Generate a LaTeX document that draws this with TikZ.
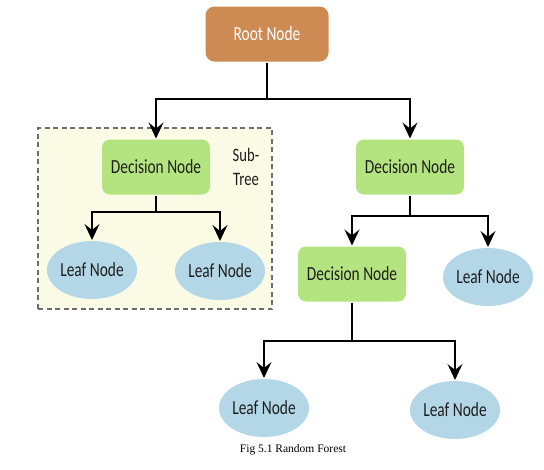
\documentclass[tikz,border=0pt]{standalone}
\usepackage{fontspec}
\setmainfont{Carlito}
\newfontfamily\nodefont[FakeStretch=0.77]{Carlito}
\newfontfamily\capfont{Liberation Serif}
\usepackage{tikz}
\usetikzlibrary{arrows.meta, positioning, shapes.geometric}

\definecolor{rootcol}{HTML}{CD8A52}
\definecolor{deccol}{HTML}{B3E47F}
\definecolor{leafcol}{HTML}{B3D7E6}
\definecolor{boxcol}{HTML}{FBFAE5}
\definecolor{dashcol}{HTML}{6E6E6E}
\definecolor{txtcol}{HTML}{1E1E1E}

\begin{document}
\begin{tikzpicture}[x=1pt, y=1pt, >={Stealth[length=16pt, width=15pt, inset=6pt]}, line width=2pt]
        % Estilos de los nodos
        \tikzstyle{rootbox} = [rectangle, rounded corners=9pt, fill=rootcol, text=white, minimum width=123pt, minimum height=55pt, font=\nodefont\fontsize{20}{22}\selectfont]
        \tikzstyle{decision} = [rectangle, rounded corners=8pt, fill=deccol, text=txtcol, minimum width=108pt, minimum height=55pt, font=\nodefont\fontsize{20}{22}\selectfont]
        \tikzstyle{leaf} = [ellipse, fill=leafcol, text=txtcol, inner sep=0pt, minimum width=90pt, minimum height=58pt, font=\nodefont\fontsize{20}{22}\selectfont]
        \tikzstyle{subtree} = [rectangle, draw=dashcol, dash pattern=on 5pt off 3.5pt, line width=1.3pt, fill=boxcol, minimum width=234pt, minimum height=181pt]
        \tikzstyle{elbow} = [coordinate]
        \useasboundingbox (0,0) rectangle (544,-469);
        % Fondo del subarbol
        \node [subtree] at (155,-218.5) (subbox) {};
        % Nodes
        \node [rootbox] at (267,-34) (root) {Root Node}; % Root
        \node [decision, on grid, below left=133pt and 111pt of root] (decL) {Decision Node}; % Left decision
        \node [decision, on grid, below right=133pt and 143pt of root] (decR) {Decision Node}; % Right decision
        \node [leaf, on grid, below left=103pt and 64pt of decL] (leafA) {Leaf Node}; % Sub-tree leaf
        \node [leaf, on grid, below right=104pt and 64pt of decL] (leafB) {Leaf Node}; % Sub-tree leaf
        \node [decision, on grid, below left=107pt and 58pt of decR] (decM) {Decision Node}; % Inner decision
        \node [leaf, on grid, below right=110pt and 78pt of decR] (leafC) {Leaf Node}; % Right leaf
        \node [leaf, on grid, below left=134pt and 88pt of decM] (leafD) {Leaf Node}; % Bottom leaf
        \node [leaf, on grid, below right=136pt and 103pt of decM] (leafE) {Leaf Node}; % Bottom leaf
        \node [align=center, text=txtcol, font=\nodefont\fontsize{19}{24}\selectfont, on grid, right=90pt of decL] (subtxt) {Sub-\\Tree}; % Sub-tree label
        \node [font=\capfont\fontsize{11.5}{13}\selectfont] at (293,-450) (caption) {Fig 5.1 Random Forest};
        % Elbows
        \node [elbow, below=36pt of root.south] (split0) {};
        \node [elbow, below=16pt of decL.south] (split1) {};
        \node [elbow, below=20pt of decR.south] (split2) {};
        \node [elbow, below=38pt of decM.south] (split3) {};
        % Connections
        \draw[-] (root.south) -- (split0);
        \draw[->] (split0) -| (decL.north);
        \draw[->] (split0) -| (decR.north);
        \draw[-] (decL.south) -- (split1);
        \draw[->] (split1) -| (leafA.north);
        \draw[->] (split1) -| (leafB.north);
        \draw[-] (decR.south) -- (split2);
        \draw[->] (split2) -| (decM.north);
        \draw[->] (split2) -| (leafC.north);
        \draw[-] (decM.south) -- (split3);
        \draw[->] (split3) -| (leafD.north);
        \draw[->] (split3) -| (leafE.north);
\end{tikzpicture}
\end{document}
